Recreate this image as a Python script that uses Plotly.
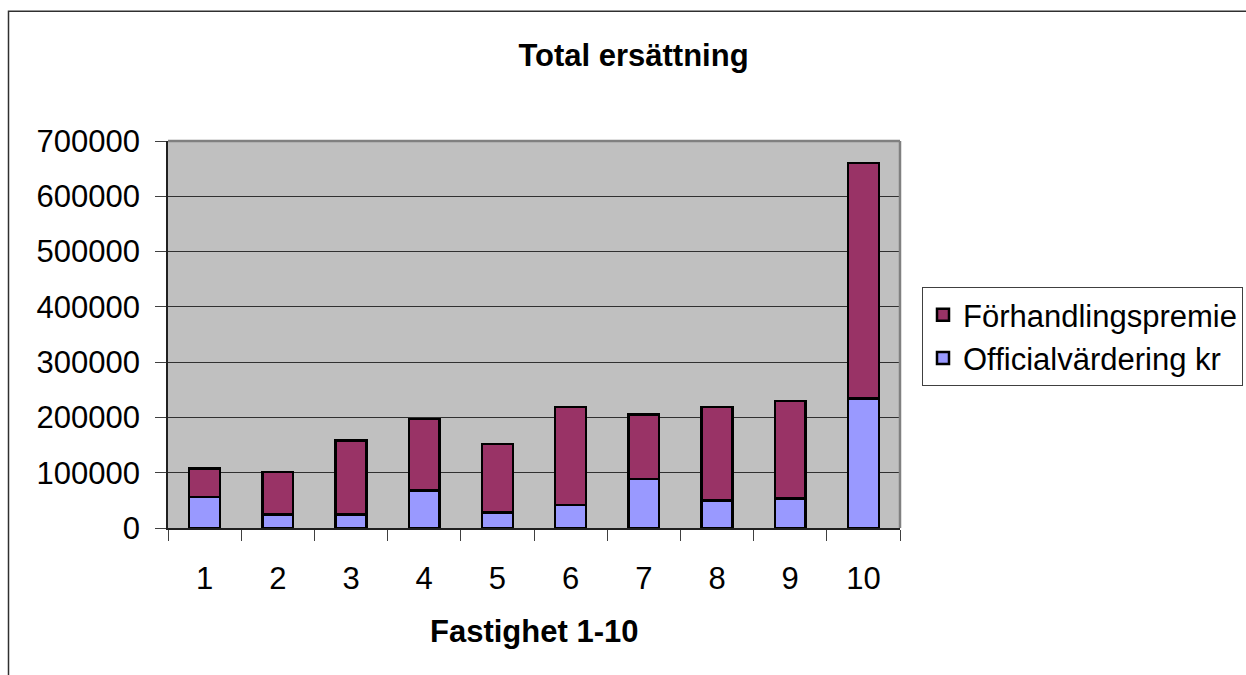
import plotly.graph_objects as go

# Fastigheter 1-10
fastigheter = ["1", "2", "3", "4", "5", "6", "7", "8", "9", "10"]

# Officialvärdering (kr) per fastighet
officialvardering = [56000, 24000, 24000, 68000, 28000, 42000, 89000, 50000, 53000, 234000]

# Förhandlingspremie (kr) per fastighet
forhandlingspremie = [52000, 77000, 134000, 129000, 124000, 177000, 116000, 169000, 177000, 426000]

y_ticks = [0, 100000, 200000, 300000, 400000, 500000, 600000, 700000]

FONT = "Liberation Sans, Arial, sans-serif"
FS = 31
W, H = 1246, 675
L, R, T, B = 168, 900, 140.5, 528.3

fig = go.Figure()
fig.add_trace(go.Bar(
    x=fastigheter, y=officialvardering, name="Officialvärdering kr",
    marker=dict(color="#9999FF", line=dict(color="#000000", width=2.5)),
))
fig.add_trace(go.Bar(
    x=fastigheter, y=forhandlingspremie, name="Förhandlingspremie",
    marker=dict(color="#993366", line=dict(color="#000000", width=2.5)),
))

pw, ph = R - L, B - T

def px_x(x):
    return (x - L) / pw

def px_y(y):
    return (B - y) / ph

fig.update_layout(
    width=W, height=H,
    margin=dict(l=L, r=W - R, t=T, b=H - B, autoexpand=False),
    barmode="stack", bargap=0.58,
    paper_bgcolor="#FFFFFF", plot_bgcolor="#C0C0C0",
    font=dict(family=FONT, size=FS, color="#000000"),
    showlegend=True,
    legend=dict(
        xref="container", yref="container",
        x=922 / W, y=1 - 287 / H, xanchor="left", yanchor="top",
        traceorder="reversed", bgcolor="#FFFFFF",
        bordercolor="#404040", borderwidth=1,
        font=dict(family=FONT, size=FS, color="#000000"),
    ),
    title=dict(
        text="<b>Total ersättning</b>", x=633.5 / W, xref="container",
        y=1 - 55 / H, yref="container", xanchor="center", yanchor="middle",
        font=dict(family=FONT, size=FS, color="#000000"),
    ),
    xaxis=dict(
        type="category", tickson="boundaries", ticks="outside", ticklen=11,
        tickcolor="#404040", tickwidth=1, showgrid=False,
        showline=True, linecolor="#202020", linewidth=1.5,
        ticklabelstandoff=22, automargin=False,
        tickfont=dict(family=FONT, size=FS, color="#000000"),
    ),
    yaxis=dict(
        range=[0, 700000], tickvals=y_ticks, tickformat="d",
        ticks="outside", ticklen=11, tickcolor="#404040", tickwidth=1,
        showgrid=True, gridcolor="#303030", gridwidth=1,
        showline=True, linecolor="#202020", linewidth=1.5,
        zeroline=False, ticklabelstandoff=9, automargin=False,
        tickfont=dict(family=FONT, size=FS, color="#000000"),
    ),
    annotations=[dict(
        text="<b>Fastighet 1-10</b>", xref="paper", yref="paper",
        x=0.5, y=px_y(632), xanchor="center", yanchor="middle",
        showarrow=False, font=dict(family=FONT, size=FS, color="#000000"),
    )],
    shapes=[
        # plot area frame (top and right edges)
        dict(type="line", xref="paper", yref="paper", x0=0, x1=1, y0=1, y1=1,
             line=dict(color="#808080", width=2.5)),
        dict(type="line", xref="paper", yref="paper", x0=1, x1=1, y0=0, y1=1,
             line=dict(color="#808080", width=2.5)),
        # chart area border
        dict(type="rect", xref="paper", yref="paper",
             x0=px_x(8.5), x1=px_x(W + 40), y0=px_y(10.5), y1=px_y(H + 40),
             line=dict(color="#303030", width=1.5), layer="above"),
    ],
)

fig.write_html("out.html")
